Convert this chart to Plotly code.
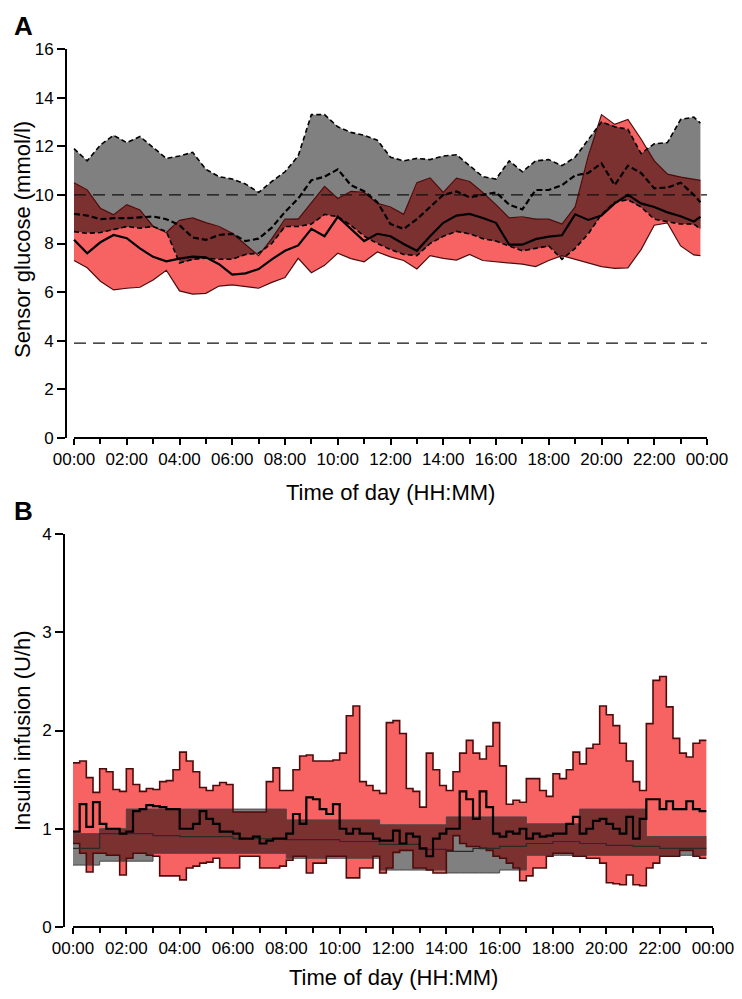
import numpy as np
import plotly.graph_objects as go

# ---------------- Panel A: sensor glucose (mmol/l), 30-min resolution ----------------
glucose_hours = [0, 0.5, 1, 1.5, 2, 2.5, 3, 3.5, 4, 4.5, 5, 5.5, 6, 6.5, 7, 7.5, 8, 8.5,
                 9, 9.5, 10, 10.5, 11, 11.5, 12, 12.5, 13, 13.5, 14, 14.5, 15, 15.5, 16,
                 16.5, 17, 17.5, 18, 18.5, 19, 19.5, 20, 20.5, 21, 21.5, 22, 22.5, 23,
                 23.5, 23.75]
# control (grey): upper quartile, median, lower quartile
ctrl_glu_upper = [11.9, 11.4, 12.05, 12.45, 12.15, 12.4, 11.95, 11.5, 11.6, 11.75, 11.05,
                  10.75, 10.65, 10.45, 10.1, 10.55, 10.95, 11.6, 13.3, 13.3, 12.8, 12.57,
                  12.45, 12.25, 11.55, 11.4, 11.5, 11.45, 11.6, 11.65, 11.2, 10.75, 10.65,
                  11.4, 10.95, 11.4, 11.45, 11.2, 11.55, 12.25, 13.0, 12.8, 12.7, 11.7,
                  12.1, 12.15, 13.1, 13.2, 12.95]
ctrl_glu_median = [9.22, 9.15, 9.0, 9.04, 9.04, 9.06, 9.11, 9.0, 8.75, 8.25, 8.15, 8.35,
                   8.4, 8.1, 8.2, 8.65, 9.3, 9.85, 10.6, 10.75, 11.05, 10.4, 10.15, 9.7,
                   8.8, 8.6, 9.0, 9.5, 10.0, 10.14, 9.9, 10.0, 10.1, 9.6, 9.4, 10.2, 10.2,
                   10.4, 10.8, 10.9, 11.3, 10.4, 11.2, 10.9, 10.27, 10.3, 10.5, 10.0, 9.7]
ctrl_glu_lower = [8.49, 8.42, 8.45, 8.56, 8.7, 8.63, 8.7, 8.5, 7.2, 7.35, 7.4, 7.35, 7.35,
                  7.55, 7.6, 8.0, 8.7, 8.7, 8.8, 9.2, 9.1, 8.75, 8.3, 8.0, 7.75, 7.55, 7.5,
                  8.0, 8.3, 8.5, 8.4, 8.2, 8.1, 7.9, 7.7, 7.8, 7.9, 7.35, 7.8, 8.4, 9.2,
                  9.7, 9.8, 9.5, 9.0, 8.9, 8.8, 8.8, 8.6]
# closed loop (red): upper quartile, median, lower quartile
cl_glu_upper = [10.5, 10.2, 9.45, 9.18, 9.6, 9.38, 8.7, 8.45, 8.95, 9.05, 8.86, 8.7, 8.42,
                7.95, 7.5, 8.2, 9.0, 9.0, 9.7, 10.35, 9.85, 10.14, 10.1, 9.65, 9.5, 9.2,
                10.5, 10.7, 10.1, 10.69, 10.55, 10.1, 9.6, 9.05, 9.1, 9.0, 9.0, 8.8, 9.5,
                11.6, 13.3, 12.9, 13.1, 12.3, 11.4, 10.85, 10.73, 10.65, 10.6]
cl_glu_median = [8.15, 7.6, 8.05, 8.35, 8.22, 7.8, 7.45, 7.27, 7.38, 7.46, 7.43, 7.15,
                 6.72, 6.77, 6.95, 7.35, 7.7, 7.92, 8.6, 8.3, 9.1, 8.6, 8.1, 8.4, 8.3,
                 7.98, 7.7, 8.3, 8.85, 9.15, 9.22, 9.05, 8.85, 7.95, 7.95, 8.18, 8.28,
                 8.34, 9.2, 8.97, 9.15, 9.65, 10.0, 9.65, 9.5, 9.28, 9.12, 8.9, 9.1]
cl_glu_lower = [7.3, 7.0, 6.45, 6.09, 6.16, 6.2, 6.5, 6.9, 6.05, 5.92, 5.95, 6.25, 6.3,
                6.23, 6.16, 6.4, 6.6, 7.39, 6.8, 7.1, 7.6, 7.38, 7.25, 7.65, 7.45, 7.3,
                6.95, 7.5, 7.39, 7.32, 7.55, 7.3, 7.25, 7.19, 7.15, 7.05, 7.3, 7.5, 7.35,
                7.2, 7.05, 6.98, 7.0, 7.75, 8.75, 8.85, 7.9, 7.53, 7.5]
glucose_target_lines = [10.0, 3.9]

# ---------------- Panel B: insulin infusion (U/h) ----------------
insulin_step_hours = [k * 0.25 for k in range(95)]   # 15-min steps, start times
insulin_end_hour = 23.75
cl_ins_upper = [1.67, 1.69, 1.52, 1.37, 1.61, 1.58, 1.4, 1.38, 1.61, 1.45, 1.38, 1.41,
                1.4, 1.48, 1.49, 1.6, 1.78, 1.69, 1.58, 1.42, 1.39, 1.44, 1.47, 1.45,
                1.17, 1.17, 1.17, 1.17, 1.17,
                1.48, 1.62, 1.39, 1.39, 1.6, 1.74, 1.75, 1.69, 1.69, 1.69, 1.70, 1.77,
                2.15, 2.25, 1.48, 1.44, 1.39, 1.36,
                2.08, 2.1, 1.97, 1.41, 1.38, 1.22, 1.77, 1.6, 1.44, 1.39, 1.58, 1.77,
                1.9, 1.77, 1.71, 1.84, 2.08, 1.64,
                1.25, 1.29, 1.27, 1.51, 1.51, 1.39, 1.33, 1.56, 1.51, 1.6, 1.78, 1.66,
                1.82, 1.86,
                2.25, 2.16, 2.05, 1.87, 1.69, 1.48, 1.39, 2.07, 2.51, 2.55, 2.24, 1.92,
                1.77, 1.73, 1.87, 1.9]
cl_ins_median = [0.97, 1.25, 1.02, 1.27, 1.05, 1.0, 1.0, 0.95, 0.97, 1.18, 1.2, 1.24,
                 1.23, 1.22, 1.2, 1.2, 1.0, 1.0, 1.05, 1.18, 1.1, 1.05, 0.97, 0.97, 0.95,
                 0.9, 0.9, 0.92, 0.85, 0.88, 0.9, 0.9, 0.95, 1.15, 1.05, 1.32, 1.3, 1.2,
                 1.15, 1.25, 1.0, 0.95, 1.0, 0.95, 0.95, 0.9, 0.88, 0.88, 0.98, 0.85,
                 0.95, 0.92, 0.8, 0.72, 0.9, 0.95, 1.0, 1.0, 1.38, 1.3, 1.1, 1.38, 1.22,
                 0.95, 0.92, 0.97, 0.95, 1.0, 0.9, 0.95, 0.92, 0.93, 0.95, 0.95, 1.05,
                 1.12, 0.95, 1.0, 1.08, 1.1, 1.05, 1.0, 0.95, 1.12, 0.9, 1.1, 1.3, 1.3,
                 1.2, 1.28, 1.2, 1.2, 1.28, 1.2, 1.18]
cl_ins_lower = [0.85, 0.75, 0.56, 0.75, 0.75, 0.73, 0.73, 0.53, 0.7, 0.75, 0.75, 0.73,
                0.72, 0.52, 0.52, 0.52, 0.48, 0.6, 0.62, 0.65, 0.66, 0.7, 0.6, 0.6, 0.6,
                0.72, 0.72, 0.72, 0.6, 0.6, 0.6, 0.62, 0.68, 0.72, 0.72, 0.55, 0.65,
                0.65, 0.72, 0.72, 0.72, 0.5, 0.5, 0.6, 0.6, 0.72, 0.55, 0.6, 0.76, 0.78,
                0.78, 0.6, 0.6, 0.58, 0.55, 0.55, 0.78, 0.93, 0.85, 0.82, 0.82, 0.8,
                0.78, 0.72, 0.7, 0.65, 0.6, 0.47, 0.52, 0.6, 0.6, 0.72, 0.75, 0.75,
                0.75, 0.72, 0.72, 0.7, 0.7, 0.65, 0.45, 0.44, 0.43, 0.53, 0.43, 0.42,
                0.6, 0.65, 0.72, 0.72, 0.72, 0.78, 0.78, 0.72, 0.7]
# control (grey): piecewise-constant rates, given as change times and values
ctrl_ins_upper_t = [0, 1, 2, 8, 11.5, 14, 17, 19, 21.5]
ctrl_ins_upper_v = [0.95, 1.0, 1.2, 1.09, 1.04, 1.12, 1.05, 1.2, 0.92]
ctrl_ins_median_t = [0, 1, 3, 4, 6, 8, 10, 11.5, 13, 14, 15, 16, 17, 18, 19, 20, 21, 22]
ctrl_ins_median_v = [0.8, 0.95, 0.93, 0.92, 0.9, 0.89, 0.87, 0.84, 0.79, 0.77, 0.8, 0.82,
                     0.85, 0.87, 0.85, 0.83, 0.82, 0.8]
ctrl_ins_lower_t = [0, 1, 3, 8, 11.5, 14, 16, 17, 21.5]
ctrl_ins_lower_v = [0.63, 0.67, 0.75, 0.7, 0.58, 0.55, 0.58, 0.73, 0.73]

hour_ticks = [0, 2, 4, 6, 8, 10, 12, 14, 16, 18, 20, 22, 24]
hour_labels = ["00:00", "02:00", "04:00", "06:00", "08:00", "10:00", "12:00", "14:00",
               "16:00", "18:00", "20:00", "22:00", "00:00"]
minor_hours = [1, 3, 5, 7, 9, 11, 13, 15, 17, 19, 21, 23]

# ---------------- styling ----------------
RED = "#F76262"
GREY = "#808080"
MAROON = "#7C3131"   # red x grey (multiplied)
RED_EDGE = "#4d0c0c"
FONT = "Liberation Sans, Arial, sans-serif"

fig = go.Figure()


def add_band(x, lo, hi, color, xa, ya, shape):
    fig.add_trace(go.Scatter(x=x, y=lo, mode="lines", line=dict(width=0, shape=shape),
                             xaxis=xa, yaxis=ya, hoverinfo="skip", showlegend=False))
    fig.add_trace(go.Scatter(x=x, y=hi, mode="lines", line=dict(width=0, shape=shape),
                             fill="tonexty", fillcolor=color, xaxis=xa, yaxis=ya,
                             hoverinfo="skip", showlegend=False))


def add_line(x, y, color, width, dash, xa, ya, shape):
    fig.add_trace(go.Scatter(x=x, y=y, mode="lines",
                             line=dict(color=color, width=width, dash=dash, shape=shape),
                             xaxis=xa, yaxis=ya, hoverinfo="skip", showlegend=False))


# ---- Panel A ----
hA = np.array(glucose_hours, float)
fine = np.linspace(hA[0], hA[-1], int(round((hA[-1] - hA[0]) * 60)) + 1)
g_lo = np.interp(fine, hA, ctrl_glu_lower)
g_hi = np.interp(fine, hA, ctrl_glu_upper)
r_lo = np.interp(fine, hA, cl_glu_lower)
r_hi = np.interp(fine, hA, cl_glu_upper)
ov_lo = np.maximum(g_lo, r_lo)
ov_hi = np.maximum(ov_lo, np.minimum(g_hi, r_hi))

add_band(glucose_hours, ctrl_glu_lower, ctrl_glu_upper, GREY, "x", "y", "linear")
add_band(glucose_hours, cl_glu_lower, cl_glu_upper, RED, "x", "y", "linear")
add_band(fine, ov_lo, ov_hi, MAROON, "x", "y", "linear")
for lvl in glucose_target_lines:
    add_line([0, 24], [lvl, lvl], "#111111", 1.3, "12px,7px", "x", "y", "linear")
add_line(glucose_hours, cl_glu_lower, RED_EDGE, 1.2, "solid", "x", "y", "linear")
add_line(glucose_hours, cl_glu_upper, RED_EDGE, 1.2, "solid", "x", "y", "linear")
add_line(glucose_hours, ctrl_glu_lower, "black", 1.6, "5px,3px", "x", "y", "linear")
add_line(glucose_hours, ctrl_glu_upper, "black", 1.6, "5px,3px", "x", "y", "linear")
add_line(glucose_hours, ctrl_glu_median, "black", 2.2, "6px,3px", "x", "y", "linear")
add_line(glucose_hours, cl_glu_median, "black", 2.2, "solid", "x", "y", "linear")

# ---- Panel B ----
xb = list(insulin_step_hours) + [insulin_end_hour]


def ext(v):
    return list(v) + [v[-1]]


def hold(tchg, vchg, t):
    idx = np.searchsorted(np.array(tchg, float), np.array(t, float), side="right") - 1
    return np.array(vchg, float)[idx]


gb_hi = hold(ctrl_ins_upper_t, ctrl_ins_upper_v, xb)
gb_lo = hold(ctrl_ins_lower_t, ctrl_ins_lower_v, xb)
gb_md = hold(ctrl_ins_median_t, ctrl_ins_median_v, xb)
rb_hi = np.array(ext(cl_ins_upper))
rb_lo = np.array(ext(cl_ins_lower))
ovb_lo = np.maximum(gb_lo, rb_lo)
ovb_hi = np.maximum(ovb_lo, np.minimum(gb_hi, rb_hi))

add_band(xb, gb_lo, gb_hi, GREY, "x2", "y2", "hv")
add_band(xb, rb_lo, rb_hi, RED, "x2", "y2", "hv")
add_band(xb, ovb_lo, ovb_hi, MAROON, "x2", "y2", "hv")
add_line(xb, gb_lo, "#474747", 1.0, "solid", "x2", "y2", "hv")
add_line(xb, gb_hi, "#474747", 1.0, "solid", "x2", "y2", "hv")
add_line(xb, rb_lo, RED_EDGE, 1.6, "solid", "x2", "y2", "hv")
add_line(xb, rb_hi, RED_EDGE, 1.6, "solid", "x2", "y2", "hv")
add_line(xb, gb_md, "#2a2a2a", 1.2, "solid", "x2", "y2", "hv")
add_line(xb, ext(cl_ins_median), "black", 2.2, "solid", "x2", "y2", "hv")

# ---------------- layout ----------------
# the page adds an 8 px margin round the figure; positions below are page pixels
PAGE_OFF = 8
W, H = 726, 983


def px_x(p):
    return (p - PAGE_OFF) / W


def px_y(p):
    return 1 - (p - PAGE_OFF) / H


tickfont = dict(family=FONT, size=17, color="black")
common_x = dict(tickmode="array", tickvals=hour_ticks, ticktext=hour_labels,
                ticks="outside", ticklen=6, tickwidth=1.5, tickcolor="black",
                showline=False, showgrid=False, zeroline=False, tickfont=tickfont,
                automargin=False, ticklabeloverflow="allow",
                minor=dict(tickmode="array", tickvals=minor_hours, ticks="outside",
                           ticklen=5, tickwidth=1.5, tickcolor="black", showgrid=False))
common_y = dict(ticks="outside", ticklen=8, tickwidth=1.5, tickcolor="black",
                showline=True, linewidth=2, linecolor="black", showgrid=False,
                zeroline=False, tickfont=tickfont, automargin=False,
                ticklabeloverflow="allow")

# panel A geometry (page px): y-axis at x=67, 00:00 at 74, 24:00 at 707; 16 at y=49, 0 at y=438
a_l, a_0, a_r, a_t, a_b = 67, 74, 707, 49, 438
a_pph = (a_r - a_0) / 24.0
# panel B geometry: y-axis at x=65, 00:00 at 73, 24:00 at 713; 4 at y=534, 0 at y=927
b_l, b_0, b_r, b_t, b_b = 65, 73, 713, 534, 927
b_pph = (b_r - b_0) / 24.0

TITLE = 22


def label(text, x, y, size, angle=0):
    return dict(text=text, x=px_x(x), y=px_y(y), xref="paper", yref="paper",
                xanchor="center", yanchor="middle", showarrow=False, textangle=angle,
                font=dict(size=size, family=FONT, color="black"))


fig.update_layout(
    width=W, height=H, margin=dict(l=0, r=0, t=0, b=0, autoexpand=False),
    paper_bgcolor="white", plot_bgcolor="white", showlegend=False,
    font=dict(family=FONT, color="black"),
    xaxis=dict(domain=[px_x(a_l), px_x(a_r)], range=[-(a_0 - a_l) / a_pph, 24],
               anchor="y", **common_x),
    yaxis=dict(domain=[px_y(a_b), px_y(a_t)], range=[0, 16], tickmode="array",
               tickvals=[0, 2, 4, 6, 8, 10, 12, 14, 16], anchor="x", **common_y),
    xaxis2=dict(domain=[px_x(b_l), px_x(b_r)], range=[-(b_0 - b_l) / b_pph, 24],
                anchor="y2", **common_x),
    yaxis2=dict(domain=[px_y(b_b), px_y(b_t)], range=[0, 4], tickmode="array",
                tickvals=[0, 1, 2, 3, 4], anchor="x2", **common_y),
    shapes=[
        dict(type="line", xref="x", yref="paper", x0=0, x1=24, y0=px_y(a_b), y1=px_y(a_b),
             line=dict(color="black", width=2)),
        dict(type="line", xref="x2", yref="paper", x0=0, x1=24, y0=px_y(b_b), y1=px_y(b_b),
             line=dict(color="black", width=2)),
    ],
    annotations=[
        label("<b>A</b>", 23, 26, 26),
        label("<b>B</b>", 23, 511, 26),
        label("Sensor glucose (mmol/l)", 22, 240, TITLE, -90),
        label("Insulin infusion (U/h)", 22, 731, TITLE, -90),
        label("Time of day (HH:MM)", (a_0 + a_r) / 2, 492, TITLE),
        label("Time of day (HH:MM)", (b_0 + b_r) / 2, 977, TITLE),
    ],
)

fig.write_html("out.html", config={"displayModeBar": False})
